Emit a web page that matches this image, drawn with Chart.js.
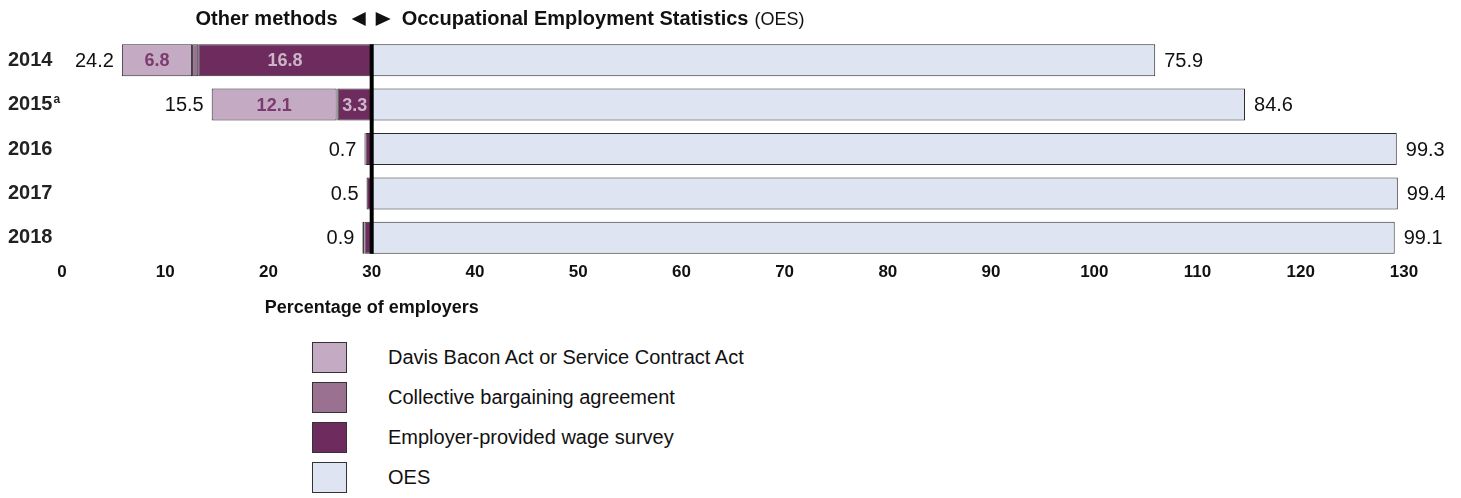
<!DOCTYPE html>
<html>
<head>
<meta charset="utf-8">
<script src="https://cdn.jsdelivr.net/npm/chart.js@4.4.1/dist/chart.umd.min.js"></script>
<style>
  body { margin: 0; background: #fff; font-family: "Liberation Sans", Arial, sans-serif; }
  #wrap { position: relative; width: 1461px; height: 330px; }
  .legend { position: absolute; left: 312px; top: 342px; }
  .item { display: flex; align-items: center; height: 31px; margin-bottom: 9px; }
  .box { width: 35px; height: 31px; border: 1px solid #333; box-sizing: border-box; margin-right: 41px; }
  .item span { font-size: 20px; color: #111; }
</style>
</head>
<body>
<div id="wrap"><canvas id="chart"></canvas></div>
<div class="legend" id="legend"></div>
<script>
// data
const years = ["2014", "2015", "2016", "2017", "2018"];
const davisBacon = [6.8, 12.1, 0, 0, 0.2];
const collective = [0.6, 0.1, 0.1, 0, 0];
const employerSurvey = [16.8, 3.3, 0.6, 0.5, 0.7];
const otherTotal = [24.2, 15.5, 0.7, 0.5, 0.9];
const oes = [75.9, 84.6, 99.3, 99.4, 99.1];
const xTicks = [0, 10, 20, 30, 40, 50, 60, 70, 80, 90, 100, 110, 120, 130];
const split = 30;

const seriesNames = ["Davis Bacon Act or Service Contract Act", "Collective bargaining agreement", "Employer-provided wage survey", "OES"];
const colors = ["#c4aac2", "#9b7191", "#6e2b5e", "#dee4f1"];

// floating bars: other methods grow left from the split, OES grows right
function seg(from, len) { return len > 0 ? [from - len, from] : null; }
const empBars = employerSurvey.map(v => seg(split, v));
const cbaBars = collective.map((v, i) => seg(split - employerSurvey[i], v));
const dbBars = davisBacon.map((v, i) => seg(split - employerSurvey[i] - collective[i], v));
const oesBars = oes.map(v => [split, split + v]);

const font = "Liberation Sans, Arial, sans-serif";

const labelPlugin = {
  id: "labels",
  afterDatasetsDraw(chart) {
    const c = chart.ctx, x = chart.scales.x, y = chart.scales.y;
    const xs = x.getPixelForValue(split);
    const bars = chart.getDatasetMeta(3).data;
    const first = bars[0], last = bars[bars.length - 1];
    c.save();
    // thick center line
    c.fillStyle = "#000";
    const top = first.y - first.height / 2, bottom = last.y + last.height / 2;
    c.fillRect(xs - 2, top, 4, bottom - top);

    c.textBaseline = "middle";
    years.forEach((yr, i) => {
      const yp = y.getPixelForValue(i) + 1;
      // inside labels
      c.font = "bold 18px " + font;
      c.textAlign = "center";
      if (davisBacon[i] >= 3) {
        const b = dbBars[i];
        c.fillStyle = "#7c3b70";
        c.fillText(davisBacon[i].toFixed(1), (x.getPixelForValue(b[0]) + x.getPixelForValue(b[1])) / 2, yp);
      }
      if (employerSurvey[i] >= 3) {
        const b = empBars[i];
        c.fillStyle = "#cbb5c8";
        c.fillText(employerSurvey[i].toFixed(1), (x.getPixelForValue(b[0]) + x.getPixelForValue(b[1])) / 2, yp);
      }
      // totals
      c.font = "20px " + font;
      c.fillStyle = "#111";
      c.textAlign = "right";
      c.fillText(otherTotal[i].toFixed(1), x.getPixelForValue(split - otherTotal[i]) - 8, yp);
      c.textAlign = "left";
      c.fillText(oes[i].toFixed(1), x.getPixelForValue(split + oes[i]) + 9, yp);
    });

    // superscript on 2015
    c.font = "bold 20px " + font;
    const w = c.measureText("2015").width;
    c.font = "bold 12px " + font;
    c.textAlign = "left";
    c.fillStyle = "#222";
    c.fillText("a", y.left + w + 1, y.getPixelForValue(1) - 5);

    // header, arrows sit on the split line
    const ty = 19;
    c.fillStyle = "#111";
    c.font = "bold 20px " + font;
    c.textAlign = "right";
    c.fillText("Other methods", xs - 34, ty);
    c.beginPath();
    c.moveTo(xs - 6, ty - 7); c.lineTo(xs - 6, ty + 7); c.lineTo(xs - 20, ty); c.closePath();
    c.moveTo(xs + 4, ty - 7); c.lineTo(xs + 4, ty + 7); c.lineTo(xs + 19, ty); c.closePath();
    c.fill();
    c.textAlign = "left";
    const right = "Occupational Employment Statistics";
    c.fillText(right, xs + 30, ty);
    const rw = c.measureText(right).width;
    c.font = "18px " + font;
    c.fillText("(OES)", xs + 30 + rw + 6, ty + 1);

    // axis title centred under the split
    c.font = "bold 18px " + font;
    c.textAlign = "center";
    c.fillText("Percentage of employers", xs, 308);
    c.restore();
  }
};

const ctx = document.querySelector("#chart");
new Chart(ctx, {
  type: "bar",
  data: {
    labels: years,
    datasets: [
      { label: seriesNames[0], data: dbBars, backgroundColor: colors[0] },
      { label: seriesNames[1], data: cbaBars, backgroundColor: colors[1] },
      { label: seriesNames[2], data: empBars, backgroundColor: colors[2] },
      { label: seriesNames[3], data: oesBars, backgroundColor: colors[3] }
    ].map(d => Object.assign(d, {
      borderColor: "#2a2a2a", borderWidth: 1, borderSkipped: false,
      grouped: false, barPercentage: 0.72, categoryPercentage: 1
    }))
  },
  options: {
    indexAxis: "y",
    responsive: true,
    maintainAspectRatio: false,
    animation: false,
    layout: { padding: { top: 38, left: 8, right: 57, bottom: 40 } },
    scales: {
      x: {
        min: 0, max: 130,
        afterBuildTicks: s => { s.ticks = xTicks.map(v => ({ value: v })); },
        afterFit: s => { s.height = 30; },
        grid: { display: false, drawTicks: false },
        border: { display: false },
        ticks: { color: "#111", font: { family: font, size: 17, weight: "bold" }, padding: 2 }
      },
      y: {
        afterFit: s => { s.width = 54; },
        grid: { display: false, drawTicks: false },
        border: { display: false },
        ticks: { crossAlign: "far", color: "#222", font: { family: font, size: 20, weight: "bold" } }
      }
    },
    plugins: { legend: { display: false }, tooltip: { enabled: false } }
  },
  plugins: [labelPlugin]
});

// legend below the chart
const legend = document.querySelector("#legend");
seriesNames.forEach((n, i) => {
  const row = document.createElement("div");
  row.className = "item";
  row.innerHTML = '<div class="box" style="background:' + colors[i] + '"></div><span>' + n + '</span>';
  legend.appendChild(row);
});
</script>
</body>
</html>
